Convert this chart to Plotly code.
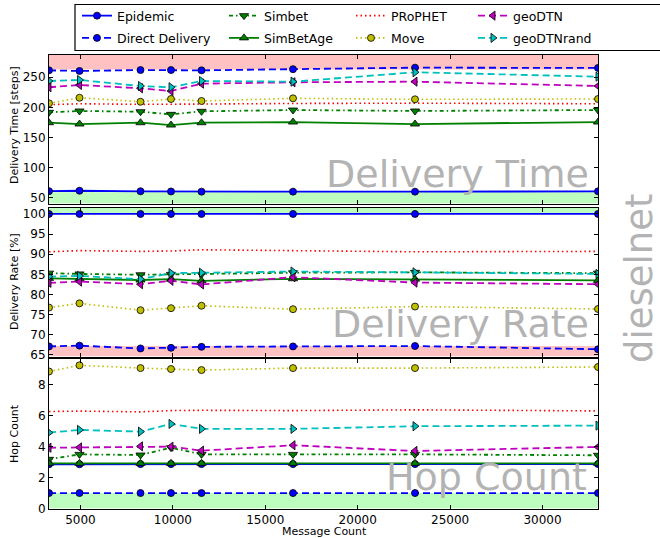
import plotly.graph_objects as go
from plotly.subplots import make_subplots

# ---------------- data ----------------
message_count = [3300, 4950, 8250, 9900, 11550, 16500, 23100, 33000]

series_names = ["Epidemic", "Direct Delivery", "Simbet", "SimBetAge",
                "PRoPHET", "Move", "geoDTN", "geoDTNrand"]

# Delivery Time [steps]
time_epidemic = [60.8, 61.5, 60.6, 60.3, 60.0, 60.0, 60.0, 60.5]
time_direct = [261.5, 260.5, 262.0, 262.0, 261.5, 263.5, 266.0, 265.5]
time_simbet = [191.8, 194.0, 192.8, 188.4, 193.4, 195.6, 194.0, 195.6]
time_simbetage = [174.5, 172.3, 174.5, 170.6, 174.5, 175.6, 172.3, 175.6]
time_prophet = [204.5, 206.0, 205.0, 205.0, 205.5, 206.5, 207.0, 206.0]
time_move = [206.7, 216.0, 209.4, 213.9, 210.6, 215.0, 213.4, 213.9]
time_geodtn = [233.4, 237.2, 231.7, 227.2, 239.4, 241.7, 242.7, 235.5]
time_geodtnrand = [243.8, 245.5, 235.5, 233.4, 243.8, 242.7, 258.3, 251.0]

# Delivery Rate [%]
rate_epidemic = [100.0, 100.0, 100.0, 100.0, 100.0, 100.0, 100.0, 100.0]
rate_direct = [67.1, 67.3, 66.6, 66.75, 67.0, 67.1, 67.2, 66.4]
rate_simbet = [85.3, 85.1, 84.9, 85.0, 85.0, 85.4, 85.5, 85.3]
rate_simbetage = [84.0, 83.9, 83.6, 83.8, 83.4, 83.9, 83.8, 83.5]
rate_prophet = [90.6, 90.9, 90.7, 90.8, 91.1, 90.9, 90.6, 90.7]
rate_move = [76.75, 77.8, 76.1, 76.6, 77.2, 76.35, 77.0, 76.4]
rate_geodtn = [82.9, 83.2, 82.55, 83.4, 82.5, 84.3, 82.95, 82.55]
rate_geodtnrand = [84.45, 84.6, 83.8, 85.3, 85.4, 85.7, 85.5, 85.1]

# Hop Count
hops_epidemic = [2.86, 2.86, 2.87, 2.87, 2.87, 2.87, 2.87, 2.87]
hops_direct = [1.0, 1.0, 1.0, 1.0, 1.0, 1.0, 1.0, 1.0]
hops_simbet = [3.18, 3.5, 3.46, 3.93, 3.5, 3.5, 3.5, 3.44]
hops_simbetage = [2.92, 2.92, 2.92, 2.92, 2.92, 2.92, 2.92, 2.92]
hops_prophet = [6.27, 6.3, 6.25, 6.33, 6.35, 6.33, 6.38, 6.31]
hops_move = [8.86, 9.26, 9.08, 9.02, 8.95, 9.08, 9.08, 9.15]
hops_geodtn = [3.93, 3.95, 4.02, 4.0, 3.74, 4.09, 3.72, 3.98]
hops_geodtnrand = [4.91, 5.08, 4.97, 5.47, 5.15, 5.15, 5.32, 5.36]

time_ticks = [50, 100, 150, 200, 250]
rate_ticks = [65, 70, 75, 80, 85, 90, 95, 100]
hops_ticks = [0, 2, 4, 6, 8]
x_ticks = [5000, 10000, 15000, 20000, 25000, 30000]
x_tick_labels = ["5000", "10000", "15000", "20000", "25000", "30000"]

# best / worst reference bands
time_best, time_worst = 59.0, 263.0
rate_best, rate_worst = 100.0, 67.2
hops_best = 1.0

# ---------------- styling ----------------
W, H = 660, 538
L_PX, R_PX = 49, 598
FONT = "DejaVu Sans"

styles = {
    "Epidemic": dict(color="#0000ff", dash="solid", symbol="circle", legend="legend"),
    "Direct Delivery": dict(color="#0000ff", dash="7px,4px", symbol="circle", legend="legend"),
    "Simbet": dict(color="#008000", dash="4px,3px,1.5px,3px", symbol="triangle-down", legend="legend2"),
    "SimBetAge": dict(color="#008000", dash="solid", symbol="triangle-up", legend="legend2"),
    "PRoPHET": dict(color="#ff0000", dash="1.5px,3px", symbol=None, legend="legend3"),
    "Move": dict(color="#bfbf00", dash="1.5px,3px", symbol="circle", legend="legend3"),
    "geoDTN": dict(color="#bf00bf", dash="7px,4px", symbol="triangle-left", legend="legend4"),
    "geoDTNrand": dict(color="#00bfbf", dash="7px,4px", symbol="triangle-right", legend="legend4"),
}

panels = [
    [time_epidemic, time_direct, time_simbet, time_simbetage,
     time_prophet, time_move, time_geodtn, time_geodtnrand],
    [rate_epidemic, rate_direct, rate_simbet, rate_simbetage,
     rate_prophet, rate_move, rate_geodtn, rate_geodtnrand],
    [hops_epidemic, hops_direct, hops_simbet, hops_simbetage,
     hops_prophet, hops_move, hops_geodtn, hops_geodtnrand],
]

fig = make_subplots(rows=3, cols=1, shared_xaxes=True, vertical_spacing=0.01)

for row, values in enumerate(panels, start=1):
    for name, ys in zip(series_names, values):
        st = styles[name]
        is_dot = "1.5px,3px" == st["dash"]
        mode = "lines+markers" if st["symbol"] else "lines"
        marker = dict(color=st["color"], size=8 if "triangle" in (st["symbol"] or "") else 7,
                      symbol=st["symbol"] or "circle",
                      line=dict(color="black", width=0.8))
        fig.add_trace(go.Scatter(
            x=message_count, y=ys, name=name, mode=mode,
            line=dict(color=st["color"], dash=st["dash"], width=1.6 if is_dot else 1.8),
            marker=marker,
            legend=st["legend"], legendgroup=name,
            showlegend=(row == 1),
        ), row=row, col=1)


def ydom(top_px, bot_px):
    return [1 - bot_px / H, 1 - top_px / H]


axis_common = dict(showline=True, linecolor="black", linewidth=1, mirror="ticks",
                   ticks="inside", ticklen=4, tickcolor="black", showgrid=False,
                   zeroline=False, automargin=False,
                   tickfont=dict(family=FONT, size=12, color="black"))

fig.update_layout(
    yaxis=dict(domain=ydom(55, 203.5), range=[40.3, 287], tickvals=time_ticks, **axis_common),
    yaxis2=dict(domain=ydom(207.5, 356.5), range=[64.6, 101.6], tickvals=rate_ticks, **axis_common),
    yaxis3=dict(domain=ydom(358.5, 508.5), range=[0, 9.7], tickvals=hops_ticks, **axis_common),
)
for ax in ["xaxis", "xaxis2", "xaxis3"]:
    fig.layout[ax].update(range=[3300, 33000], tickvals=x_ticks, ticktext=x_tick_labels,
                          **axis_common)
fig.layout.xaxis.showticklabels = False
fig.layout.xaxis2.showticklabels = False
fig.layout.xaxis3.showticklabels = True

GREEN = "#bdfdbd"
RED = "#ffc1c1"
bands = [
    ("y", 40.3, time_best, GREEN), ("y", time_worst, 287, RED),
    ("y2", rate_best, 101.6, GREEN), ("y2", 64.6, rate_worst, RED),
    ("y3", 0, hops_best, GREEN),
]
xref_for = {"y": "x domain", "y2": "x2 domain", "y3": "x3 domain"}
for yref, y0, y1, col in bands:
    fig.add_shape(type="rect", xref=xref_for[yref], yref=yref, x0=0, x1=1, y0=y0, y1=y1,
                  fillcolor=col, line=dict(width=0), layer="below")

# legend border
pw = R_PX - L_PX
fig.add_shape(type="rect", xref="paper", yref="paper",
              x0=(75 - L_PX) / pw, x1=(668 - L_PX) / pw,
              y0=1 - 50.5 / H, y1=1 - 4.5 / H,
              line=dict(color="black", width=1.2), fillcolor="rgba(0,0,0,0)")


def px_x(px):
    return (px - L_PX) / pw


def px_y(py):
    return 1 - py / H


GRAY = "#b3b3b3"
big = dict(family=FONT, size=38, color=GRAY)
ann = [
    dict(text="Delivery Time", x=px_x(591), y=px_y(173.5), xanchor="right", yanchor="middle", font=big),
    dict(text="Delivery Rate", x=px_x(591), y=px_y(323.5), xanchor="right", yanchor="middle", font=big),
    dict(text="Hop Count", x=px_x(589), y=px_y(477), xanchor="right", yanchor="middle", font=big),
    dict(text="dieselnet", x=px_x(639), y=px_y(278), xanchor="center", yanchor="middle",
         textangle=-90, font=dict(family=FONT, size=37, color=GRAY)),
    dict(text="Delivery Time [steps]", x=px_x(14), y=px_y(125), xanchor="center", yanchor="middle",
         textangle=-90, font=dict(family=FONT, size=11, color="black")),
    dict(text="Delivery Rate [%]", x=px_x(14), y=px_y(282), xanchor="center", yanchor="middle",
         textangle=-90, font=dict(family=FONT, size=11, color="black")),
    dict(text="Hop Count", x=px_x(14), y=px_y(434), xanchor="center", yanchor="middle",
         textangle=-90, font=dict(family=FONT, size=11, color="black")),
    dict(text="Message Count", x=px_x(324), y=px_y(531), xanchor="center", yanchor="middle",
         font=dict(family=FONT, size=11, color="black")),
]
for a in ann:
    fig.add_annotation(xref="paper", yref="paper", showarrow=False, **a)

leg_font = dict(family=FONT, size=12.5, color="black")
leg_common = dict(orientation="v", yanchor="top", xanchor="left", y=px_y(1),
                  bgcolor="rgba(0,0,0,0)", borderwidth=0, font=leg_font,
                  tracegroupgap=3, itemclick=False, itemdoubleclick=False)
fig.update_layout(
    legend=dict(x=px_x(77), **leg_common),
    legend2=dict(x=px_x(224), **leg_common),
    legend3=dict(x=px_x(351), **leg_common),
    legend4=dict(x=px_x(473), **leg_common),
)

fig.update_layout(
    width=W, height=H,
    margin=dict(l=L_PX, r=W - R_PX, t=0, b=0, autoexpand=False),
    plot_bgcolor="white", paper_bgcolor="white",
    font=dict(family=FONT, size=12, color="black"),
)

fig.write_html(
    "out.html",
    config={"displayModeBar": False},
    post_script="document.body.style.margin='0';document.body.style.padding='0';"
                "document.body.style.overflow='hidden';",
)
